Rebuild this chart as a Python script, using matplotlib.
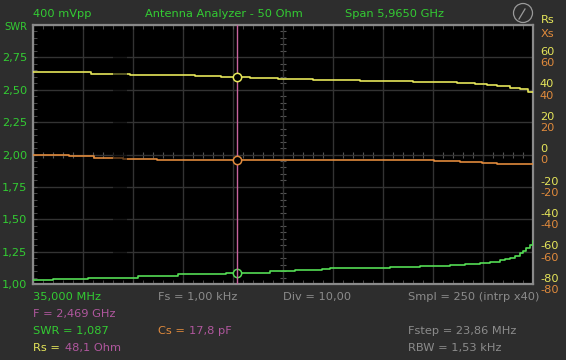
import numpy as np
import matplotlib
matplotlib.use("Agg")
from matplotlib import pyplot as plt
from matplotlib.ticker import AutoMinorLocator
from matplotlib.patches import Ellipse
from matplotlib.lines import Line2D

# sweep settings
f_start = 0.035   # GHz
f_span = 5.965    # GHz
f_cursor = 2.469  # GHz

# SWR trace (green), stepped
swr_freq = [0.035, 0.274, 0.321, 0.691, 0.989, 1.288, 1.765, 2.051, 2.337, 2.862, 3.161,
            3.483, 3.578, 4.294, 4.413, 4.652, 5.010, 5.189, 5.367, 5.487, 5.606, 5.666,
            5.726, 5.786, 5.845, 5.88, 5.92, 5.96, 6.0]
swr_val = [1.033, 1.040, 1.036, 1.047, 1.050, 1.060, 1.074, 1.081, 1.087, 1.102, 1.107,
           1.118, 1.124, 1.128, 1.133, 1.141, 1.146, 1.157, 1.163, 1.172, 1.184, 1.195,
           1.203, 1.220, 1.236, 1.255, 1.275, 1.300, 1.330]

# Rs trace (yellow), ohm
rs_freq = [0.035, 0.727, 0.989, 1.192, 1.634, 1.968, 2.278, 2.624, 2.958, 3.375, 3.936,
           4.568, 4.771, 5.093, 5.308, 5.451, 5.570, 5.726, 5.845, 5.94, 6.0]
rs_val = [50.7, 50.0, 49.6, 49.4, 48.9, 48.5, 48.1, 47.5, 46.9, 46.1, 45.5,
          45.0, 44.7, 44.0, 43.6, 43.0, 42.4, 41.3, 40.3, 38.8, 38.5]

# Xs trace (orange), ohm
xs_freq = [0.035, 0.166, 0.464, 0.763, 1.109, 1.514, 2.147, 4.819, 5.129, 5.391, 5.570, 6.0]
xs_val = [0.0, -0.6, -1.2, -2.0, -2.6, -3.1, -3.6, -4.2, -4.7, -5.3, -6.1, -6.1]

# cursor readout
cur_swr = 1.087
cur_rs = 48.1
cur_xs = -3.6

rx_ticks = [60, 40, 20, 0, -20, -40, -60, -80]

BG = '#2d2d2d'
GREEN = '#33cc33'
LINE_GREEN = '#55dd55'
YELLOW = '#e6e65a'
ORANGE = '#e08a3c'
PINK = '#c8649e'
PURPLE = '#b0579e'
GREY = '#8c8c8c'
FS = 8.2

plt.rcParams['font.family'] = ['DejaVu Sans']
fig = plt.figure(figsize=(5.66, 3.6), dpi=100, facecolor=BG)
W, H = 566.0, 360.0
ax = fig.add_axes([33 / W, 1 - 284 / H, 500 / W, 259 / H], facecolor='black')
f_end = f_start + f_span
ax.set_xlim(f_start, f_end)
ax.set_ylim(1.0, 3.0)
ax.set_xticks(np.linspace(f_start, f_end, 11))
ax.set_yticks(np.linspace(1.0, 3.0, 9))
ax.xaxis.set_minor_locator(AutoMinorLocator(5))
ax.yaxis.set_minor_locator(AutoMinorLocator(5))
ax.grid(True, which='major', color='#333333', lw=1.0)
ax.tick_params(which='both', direction='in', length=3, color='#555555',
               top=True, bottom=True, left=True, right=True,
               labelbottom=False)
ax.set_yticklabels([('%.2f' % v).replace('.', ',') if v < 2.9 else '' for v in ax.get_yticks()],
                   color=GREEN, fontsize=FS)
ax.tick_params(axis='y', pad=4)
for sp in ax.spines.values():
    sp.set_color('#8a8a8a')
    sp.set_linewidth(1.6)

# centre crosshair ticks
xc = f_start + f_span / 2
xt = np.linspace(f_start, f_end, 51)
ax.plot(xt, [2.0] * len(xt), ls='none', marker='|', ms=4, mew=0.8, color='#555555', zorder=1.5)
yt = np.linspace(1.0, 3.0, 41)
ax.plot([xc] * len(yt), yt, ls='none', marker='_', ms=4, mew=0.8, color='#555555', zorder=1.5)

ax.plot(swr_freq, swr_val, drawstyle='steps-post', color=LINE_GREEN, lw=1.2, zorder=3)

ax2 = ax.twinx()
ax2.set_ylim(-80, 80)
ax2.set_yticks([])
for sp in ax2.spines.values():
    sp.set_visible(False)
ax2.plot(rs_freq, rs_val, drawstyle='steps-post', color=YELLOW, lw=1.2, zorder=3)
ax2.plot(xs_freq, xs_val, drawstyle='steps-post', color=ORANGE, lw=1.2, zorder=3)
# dim gap in the trace
ax2.axvspan(0.99, 1.16, ymin=0.03, ymax=0.97, color='black', alpha=0.55, lw=0, zorder=4)

# cursor
ax2.axvline(f_cursor, color=PINK, lw=1.0, zorder=5)
ax.plot(f_cursor, cur_swr, 'o', ms=6, mfc='black', mec=LINE_GREEN, mew=1.1, zorder=6)
ax2.plot(f_cursor, cur_rs, 'o', ms=6, mfc='black', mec=YELLOW, mew=1.1, zorder=6)
ax2.plot(f_cursor, cur_xs, 'o', ms=6, mfc='black', mec=ORANGE, mew=1.1, zorder=6)

# right-hand scale labels (Rs above, Xs below)
for v in rx_ticks:
    ax2.annotate(str(v), (1.0, v), xycoords=('axes fraction', 'data'),
                 xytext=(5, 3.8), textcoords='offset points', va='center', ha='left',
                 color=YELLOW, fontsize=FS, annotation_clip=False)
    ax2.annotate(str(v), (1.0, v), xycoords=('axes fraction', 'data'),
                 xytext=(5, -4.3), textcoords='offset points', va='center', ha='left',
                 color=ORANGE, fontsize=FS, annotation_clip=False)


def put(x, y, s, c, size=FS):
    fig.text(x / W, 1 - y / H, s, color=c, fontsize=size, va='center', ha='left')


put(4, 27, 'SWR', GREEN, size=7.2)
put(541, 20, 'Rs', YELLOW)
put(541, 34, 'Xs', ORANGE)
put(33, 14, '400 mVpp', GREEN)
put(145, 14, 'Antenna Analyzer - 50 Ohm', GREEN)
put(345, 14, 'Span 5,9650 GHz', GREEN)

# gauge icon
fig.add_artist(Ellipse((523 / W, 1 - 13 / H), 19 / W, 19 / H, fill=False, ec='#9a9a9a', lw=0.9,
                       transform=fig.transFigure))
fig.add_artist(Line2D([519 / W, 525 / W], [1 - 19 / H, 1 - 9 / H], color='#9a9a9a', lw=0.9,
                      transform=fig.transFigure))

put(33, 297, '35,000 MHz', GREEN)
put(158, 297, 'Fs = 1,00 kHz', GREY)
put(283, 297, 'Div = 10,00', GREY)
put(408, 297, 'Smpl = 250 (intrp x40)', GREY)
put(33, 314, 'F = 2,469 GHz', PURPLE)
put(33, 331, 'SWR = 1,087', GREEN)
put(158, 331, 'Cs = ', ORANGE)
put(189, 331, '17,8 pF', PURPLE)
put(408, 331, 'Fstep = 23,86 MHz', GREY)
put(33, 348, 'Rs = ', YELLOW)
put(65, 348, '48,1 Ohm', PURPLE)
put(408, 348, 'RBW = 1,53 kHz', GREY)

fig.savefig('out.png', dpi=100, facecolor=BG)
